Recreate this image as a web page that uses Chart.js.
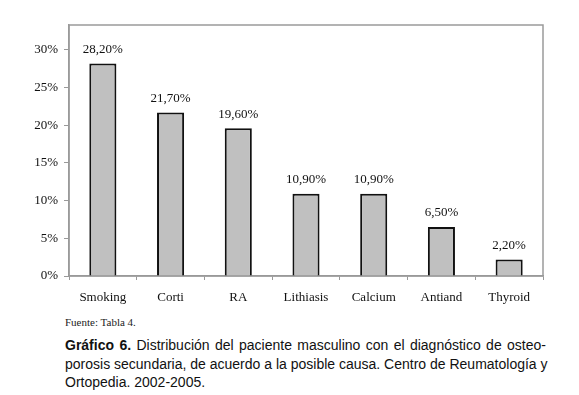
<!DOCTYPE html>
<html>
<head>
<meta charset="utf-8">
<script src="https://cdn.jsdelivr.net/npm/chart.js@4/dist/chart.umd.min.js"></script>
<style>
  html, body { margin: 0; padding: 0; background: #fff; }
  body { width: 579px; height: 395px; position: relative; overflow: hidden; }
  #wrap { position: absolute; left: 0; top: 0; width: 579px; height: 312px; }
  #fuente { position: absolute; left: 65px; top: 316px; font-family: "Liberation Serif", "Times New Roman", serif; font-size: 11px; color: #222; }
  #caption { position: absolute; left: 65px; top: 336px; width: 481px; font-family: "Liberation Sans", Arial, sans-serif; font-size: 14px; line-height: 18.5px; color: #111; }
  #caption .j { text-align: justify; text-align-last: justify; white-space: nowrap; }
</style>
</head>
<body>
<div id="wrap"><canvas id="c"></canvas></div>
<div id="fuente">Fuente: Tabla 4.</div>
<div id="caption">
  <div class="j"><b>Gráfico 6.</b> Distribución del paciente masculino con el diagnóstico de osteo-</div>
  <div class="j">porosis secundaria, de acuerdo a la posible causa. Centro de Reumatología y</div>
  <div>Ortopedia. 2002-2005.</div>
</div>
<script>
const categories = ["Smoking", "Corti", "RA", "Lithiasis", "Calcium", "Antiand", "Thyroid"];
const percentages = [28.2, 21.7, 19.6, 10.9, 10.9, 6.5, 2.2];
const yTickValues = [0, 5, 10, 15, 20, 25, 30];

const serif = '"Liberation Serif", "Times New Roman", serif';

const framePlugin = {
  id: 'frame',
  beforeDatasetsDraw(chart) {
    const { ctx, chartArea: a } = chart;
    ctx.save();
    ctx.strokeStyle = '#9a9a9a';
    ctx.lineWidth = 1.5;
    ctx.strokeRect(a.left, a.top, a.right - a.left, a.bottom - a.top);
    ctx.restore();
  }
};

const labelPlugin = {
  id: 'valueLabels',
  afterDatasetsDraw(chart) {
    const { ctx } = chart;
    const meta = chart.getDatasetMeta(0);
    ctx.save();
    ctx.font = '13px ' + serif;
    ctx.fillStyle = '#111';
    ctx.textAlign = 'center';
    ctx.textBaseline = 'middle';
    meta.data.forEach((bar, i) => {
      const v = chart.data.datasets[0].data[i];
      ctx.fillText(v.toFixed(2).replace('.', ',') + '%', bar.x, bar.y - 14);
    });
    ctx.restore();
  }
};

new Chart(document.getElementById('c'), {
  type: 'bar',
  data: {
    labels: categories,
    datasets: [{
      data: percentages,
      backgroundColor: '#c0c0c0',
      borderColor: '#111',
      borderWidth: 2,
      borderSkipped: 'bottom',
      categoryPercentage: 0.8,
      barPercentage: 0.5
    }]
  },
  options: {
    responsive: true,
    maintainAspectRatio: false,
    animation: false,
    layout: { padding: { left: 0, right: 36, top: 25, bottom: 0 } },
    plugins: { legend: { display: false }, tooltip: { enabled: false } },
    scales: {
      x: {
        offset: true,
        grid: { display: true, offset: true, drawOnChartArea: false, tickLength: 4, color: '#999', lineWidth: 1 },
        border: { display: true, color: '#999', width: 1.5 },
        ticks: { color: '#111', font: { family: serif, size: 13 }, padding: 10, maxRotation: 0 },
        afterFit(s) { s.height = 36; }
      },
      y: {
        min: 0,
        max: 33.3,
        grid: { display: true, drawOnChartArea: false, tickLength: 5, color: '#999' },
        border: { display: true, color: '#999', width: 1.5 },
        afterBuildTicks(s) { s.ticks = yTickValues.map(v => ({ value: v })); },
        ticks: { color: '#111', font: { family: serif, size: 13 }, padding: 6, callback: v => v + '%' },
        afterFit(s) { s.width = 69; }
      }
    }
  },
  plugins: [framePlugin, labelPlugin]
});
</script>
</body>
</html>
